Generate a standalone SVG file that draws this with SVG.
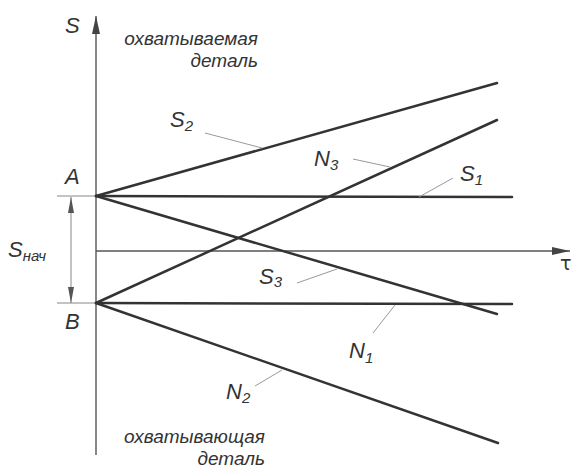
<svg xmlns="http://www.w3.org/2000/svg" width="572" height="469" viewBox="0 0 572 469">
<defs>
<marker id="ah" viewBox="0 0 18 8" refX="18" refY="4" markerWidth="18" markerHeight="8" markerUnits="userSpaceOnUse" orient="auto-start-reverse">
<path d="M0,0 L18,4 L0,8 Z" fill="#444"/>
</marker>
<marker id="dh" viewBox="0 0 16 6" refX="16" refY="3" markerWidth="16" markerHeight="6" markerUnits="userSpaceOnUse" orient="auto-start-reverse">
<path d="M0,0 L16,3 L0,6 Z" fill="#555"/>
</marker>
</defs>
<style>
.axis{stroke:#555;stroke-width:1.4;fill:none}
.thin{stroke:#888;stroke-width:1;fill:none}
.main{stroke:#333;stroke-width:2.5;fill:none;stroke-linecap:round}
.lead{stroke:#999;stroke-width:1;fill:none}
text{font-family:"Liberation Sans",Arial,sans-serif;font-style:italic;fill:#333}
.lbl{font-size:22px}
.sub{font-size:15px}
.cap{font-size:19px}
.tau{font-family:"DejaVu Sans",sans-serif;font-style:normal;font-size:19px}
</style>
<rect width="572" height="469" fill="#fff"/>
<g id="axes">
<line class="axis" x1="96" y1="455" x2="96" y2="16" marker-end="url(#ah)"/>
<line class="axis" x1="96" y1="251" x2="570" y2="251" marker-end="url(#ah)"/>
<line class="thin" x1="57" y1="196" x2="96" y2="196"/>
<line class="thin" x1="57" y1="303" x2="96" y2="303"/>
<line class="thin" x1="71" y1="197" x2="71" y2="303" marker-start="url(#dh)" marker-end="url(#dh)"/>
</g>
<g id="connectors">
<line class="main" x1="96" y1="196" x2="497" y2="83"/>
<line class="main" x1="96" y1="196" x2="512" y2="197"/>
<line class="main" x1="96" y1="196" x2="497" y2="314"/>
<line class="main" x1="96" y1="303" x2="497" y2="120"/>
<line class="main" x1="96" y1="303" x2="512" y2="304"/>
<line class="main" x1="96" y1="303" x2="498" y2="443"/>
<line class="lead" x1="205" y1="133" x2="262" y2="148"/>
<line class="lead" x1="353" y1="159" x2="390" y2="167"/>
<line class="lead" x1="453" y1="178" x2="419" y2="197"/>
<line class="lead" x1="297" y1="283" x2="337" y2="269"/>
<line class="lead" x1="395" y1="305" x2="373" y2="333"/>
<line class="lead" x1="255" y1="386" x2="282" y2="370"/>
</g>
<g id="labels">
<text class="lbl" x="65" y="33">S</text>
<text class="lbl" x="65" y="184">A</text>
<text class="lbl" x="65" y="329">B</text>
<text class="tau" x="560" y="270">τ</text>
<text x="8" y="257"><tspan class="lbl">S</tspan><tspan class="sub" dy="4">нач</tspan></text>
<text x="170" y="127"><tspan class="lbl">S</tspan><tspan class="sub" dy="4">2</tspan></text>
<text x="314" y="166"><tspan class="lbl">N</tspan><tspan class="sub" dy="4">3</tspan></text>
<text x="460" y="181"><tspan class="lbl">S</tspan><tspan class="sub" dy="4">1</tspan></text>
<text x="259" y="284"><tspan class="lbl">S</tspan><tspan class="sub" dy="3">3</tspan></text>
<text x="349" y="358"><tspan class="lbl">N</tspan><tspan class="sub" dy="5">1</tspan></text>
<text x="226" y="399"><tspan class="lbl">N</tspan><tspan class="sub" dy="4">2</tspan></text>
<text class="cap" x="258" y="45" text-anchor="end">охватываемая</text>
<text class="cap" x="258" y="67" text-anchor="end">деталь</text>
<text class="cap" x="265" y="443" text-anchor="end">охватывающая</text>
<text class="cap" x="265" y="465" text-anchor="end">деталь</text>
</g>
</svg>
